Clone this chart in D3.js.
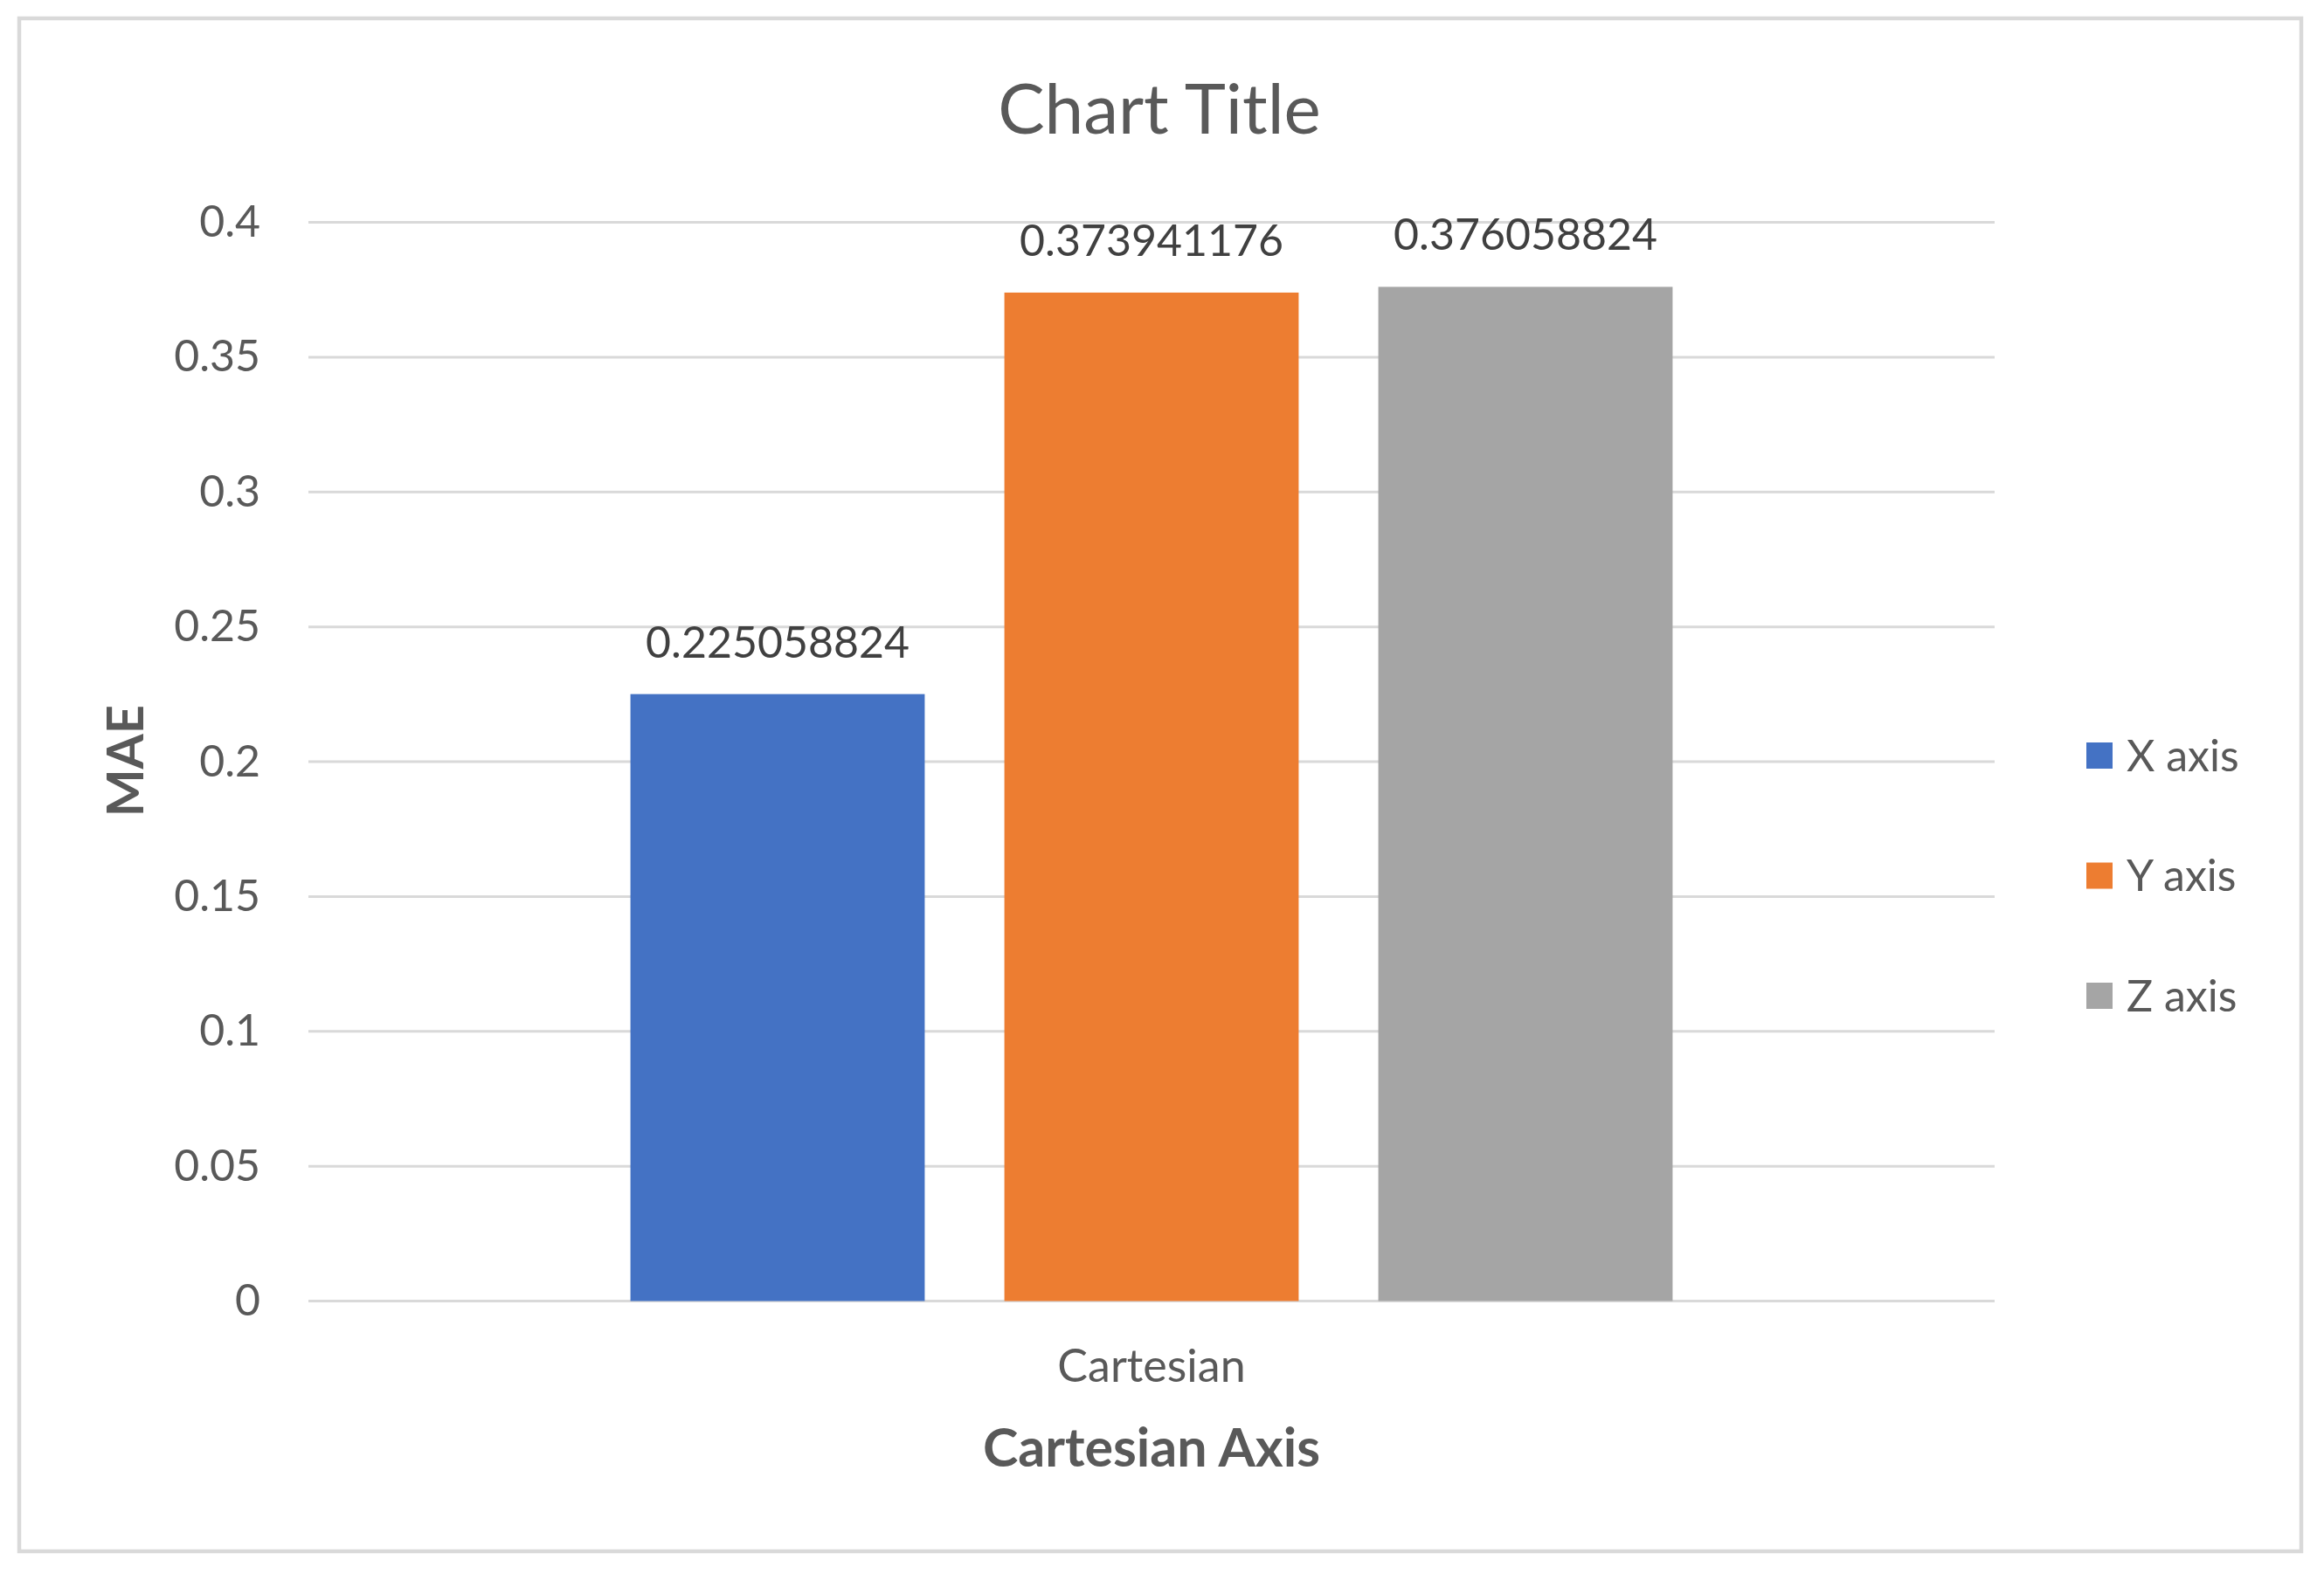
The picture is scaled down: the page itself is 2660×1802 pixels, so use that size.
<!DOCTYPE html>
<html>
<head>
<meta charset="utf-8">
<script src="https://cdn.jsdelivr.net/npm/d3@7"></script>
<style>
  html, body { margin: 0; padding: 0; background: #fff; }
  svg { display: block; }
</style>
</head>
<body>
<svg id="chart"></svg>
<script>
// data
const categories = ['Cartesian'];
const seriesNames = ['X axis', 'Y axis', 'Z axis'];
const seriesValues = [0.225058824, 0.373941176, 0.376058824];
const yTicks = [0, 0.05, 0.1, 0.15, 0.2, 0.25, 0.3, 0.35, 0.4];
const colors = ['#4472C4', '#ED7D31', '#A5A5A5'];

const W = 2660, H = 1802;
const font = 'Lato, "Open Sans", sans-serif';
const margin = {top: 254.5, right: 377, bottom: 312.5, left: 353};
const width = W - margin.left - margin.right;
const height = H - margin.top - margin.bottom;

const svg = d3.select('#chart')
  .attr('width', W)
  .attr('height', H);

// outer chart border
svg.append('rect')
  .attr('x', 22).attr('y', 21)
  .attr('width', 2612).attr('height', 1755)
  .attr('fill', '#fff')
  .attr('stroke', '#d9d9d9')
  .attr('stroke-width', 4.5);

const g = svg.append('g')
  .attr('transform', 'translate(' + margin.left + ',' + margin.top + ')');

// scales
const x0 = d3.scaleBand()
  .domain(categories)
  .range([0, width])
  .paddingOuter(0.309);

const x1 = d3.scaleBand()
  .domain(seriesNames)
  .range([0, x0.bandwidth()])
  .paddingInner(0.213);

const y = d3.scaleLinear()
  .domain([0, 0.4])
  .range([height, 0]);

// gridlines
g.append('g')
  .selectAll('line')
  .data(yTicks)
  .join('line')
    .attr('x1', 0).attr('x2', width)
    .attr('y1', d => y(d)).attr('y2', d => y(d))
    .attr('stroke', '#d9d9d9')
    .attr('stroke-width', 3);

// y axis labels
const yAxis = g.append('g')
  .call(d3.axisLeft(y).tickValues(yTicks).tickSize(0).tickPadding(55)
    .tickFormat(d => String(+d.toFixed(2))));
yAxis.select('.domain').remove();
yAxis.selectAll('text')
  .attr('font-family', font)
  .attr('font-size', 50)
  .attr('fill', '#595959');

// x axis labels
const xAxis = g.append('g')
  .attr('transform', 'translate(0,' + height + ')')
  .call(d3.axisBottom(x0).tickSize(0).tickPadding(56));
xAxis.select('.domain').remove();
xAxis.selectAll('text')
  .attr('font-family', font)
  .attr('font-size', 52)
  .attr('fill', '#595959');

// bars
const bars = seriesNames.map((s, i) => ({cat: categories[0], name: s, value: seriesValues[i], color: colors[i]}));

g.append('g')
  .selectAll('rect')
  .data(bars)
  .join('rect')
    .attr('x', d => x0(d.cat) + x1(d.name))
    .attr('y', d => y(d.value))
    .attr('width', x1.bandwidth())
    .attr('height', d => height - y(d.value))
    .attr('fill', d => d.color);

// data labels
g.append('g')
  .selectAll('text')
  .data(bars)
  .join('text')
    .attr('x', d => x0(d.cat) + x1(d.name) + x1.bandwidth() / 2)
    .attr('y', d => y(d.value) - 42)
    .attr('text-anchor', 'middle')
    .attr('font-family', font)
    .attr('font-size', 50)
    .attr('fill', '#404040')
    .text(d => d.value);

// title
svg.append('text')
  .attr('x', 1327).attr('y', 153)
  .attr('text-anchor', 'middle')
  .attr('font-family', font)
  .attr('font-size', 80)
  .attr('fill', '#595959')
  .text('Chart Title');

// axis titles
svg.append('text')
  .attr('transform', 'translate(164,871) rotate(-90)')
  .attr('text-anchor', 'middle')
  .attr('font-family', font)
  .attr('font-size', 58)
  .attr('font-weight', 'bold')
  .attr('fill', '#595959')
  .text('MAE');

svg.append('text')
  .attr('x', margin.left + width / 2).attr('y', 1679)
  .attr('text-anchor', 'middle')
  .attr('font-family', font)
  .attr('font-size', 61)
  .attr('font-weight', 'bold')
  .attr('fill', '#595959')
  .text('Cartesian Axis');

// legend
const legend = svg.append('g')
  .selectAll('g')
  .data(seriesNames)
  .join('g')
    .attr('transform', (d, i) => 'translate(2388,' + (865 + i * 137.5) + ')');

legend.append('rect')
  .attr('x', 0).attr('y', -15)
  .attr('width', 30).attr('height', 30)
  .attr('fill', (d, i) => colors[i]);

legend.append('text')
  .attr('x', 46).attr('y', 0)
  .attr('dy', '0.35em')
  .attr('font-family', font)
  .attr('font-size', 50)
  .attr('fill', '#595959')
  .text(d => d);
</script>
</body>
</html>
